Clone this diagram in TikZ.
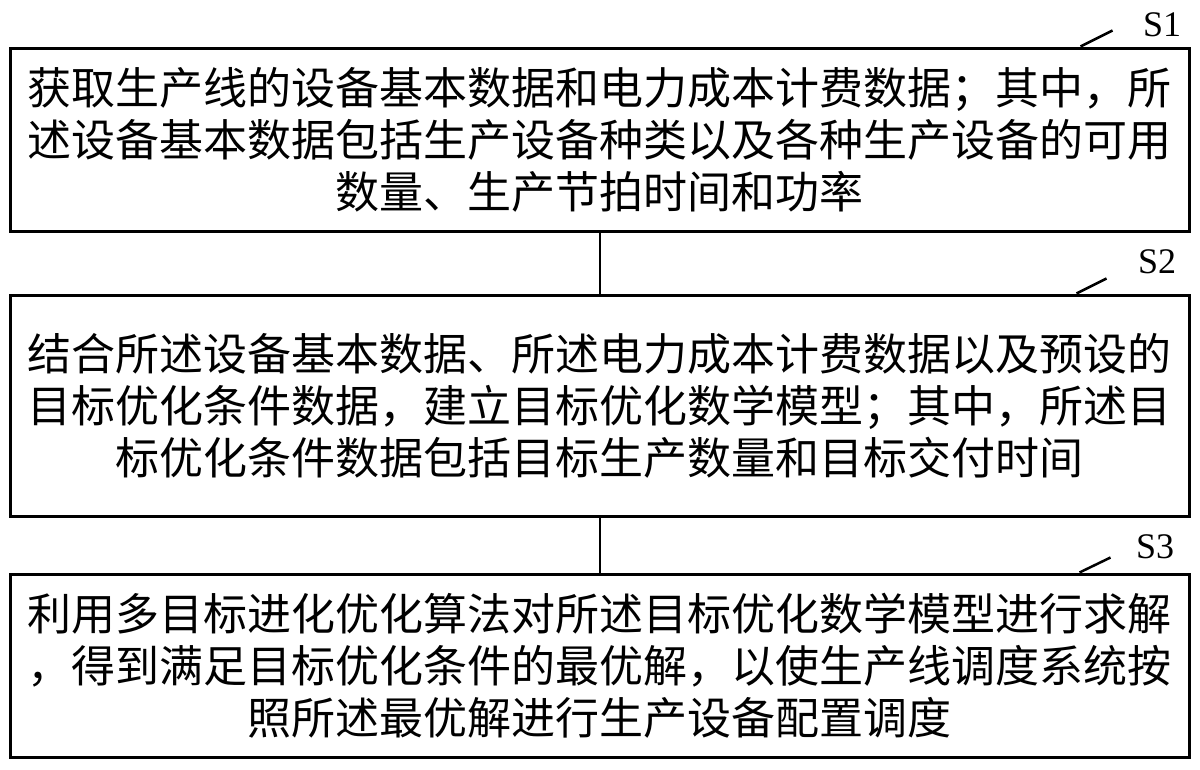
\documentclass[tikz,border=0pt]{standalone}
\usepackage{fontspec}
\setmainfont{Liberation Serif}
\newfontfamily\cjk{Noto Sans CJK SC}
\usetikzlibrary{positioning}

\def \boxwidth {1179pt}
\def \boxsmall {183pt}
\def \boxlarge {221pt}

\tikzset{
  stepbox/.style={draw, line width=3pt, rectangle, minimum width=\boxwidth, align=center,
    inner sep=0pt, font=\cjk\fontsize{44}{52}\selectfont},
  steplabel/.style={inner sep=0pt, font=\fontsize{36}{40}\selectfont},
  leader/.style={line width=2.5pt},
  link/.style={line width=2pt}
}

\begin{document}
\begin{tikzpicture}[x=1pt, y=-1pt]
\useasboundingbox (0,0) rectangle (1200,769);
\node[stepbox, minimum height=\boxsmall] (b1) at (599.5,139.5)
  {获取生产线的设备基本数据和电力成本计费数据；其中，所\\
   述设备基本数据包括生产设备种类以及各种生产设备的可用\\
   数量、生产节拍时间和功率}; % S1
\node[stepbox, minimum height=\boxlarge] (b2) at (599.5,405.5)
  {结合所述设备基本数据、所述电力成本计费数据以及预设的\\
   目标优化条件数据，建立目标优化数学模型；其中，所述目\\
   标优化条件数据包括目标生产数量和目标交付时间}; % S2
\node[stepbox, minimum height=\boxsmall] (b3) at (599.5,665.5)
  {利用多目标进化优化算法对所述目标优化数学模型进行求解\\
   ，得到满足目标优化条件的最优解，以使生产线调度系统按\\
   照所述最优解进行生产设备配置调度}; % S3
\draw[link] (b1.south) -- (b2.north);
\draw[link] (b2.south) -- (b3.north);
\node[steplabel] (s1) at (1162,25) {S1};
\node[steplabel] (s2) at (1157,262) {S2};
\node[steplabel] (s3) at (1155,547) {S3};
\coordinate (t1) at ([xshift=-110pt]b1.north east);
\coordinate (t2) at ([xshift=-114pt]b2.north east);
\coordinate (t3) at ([xshift=-111pt]b3.north east);
\draw[leader] (t1) -- ++(32,-16);
\draw[leader] (t2) -- ++(30,-15);
\draw[leader] (t3) -- ++(31,-15);
\end{tikzpicture}
\end{document}
